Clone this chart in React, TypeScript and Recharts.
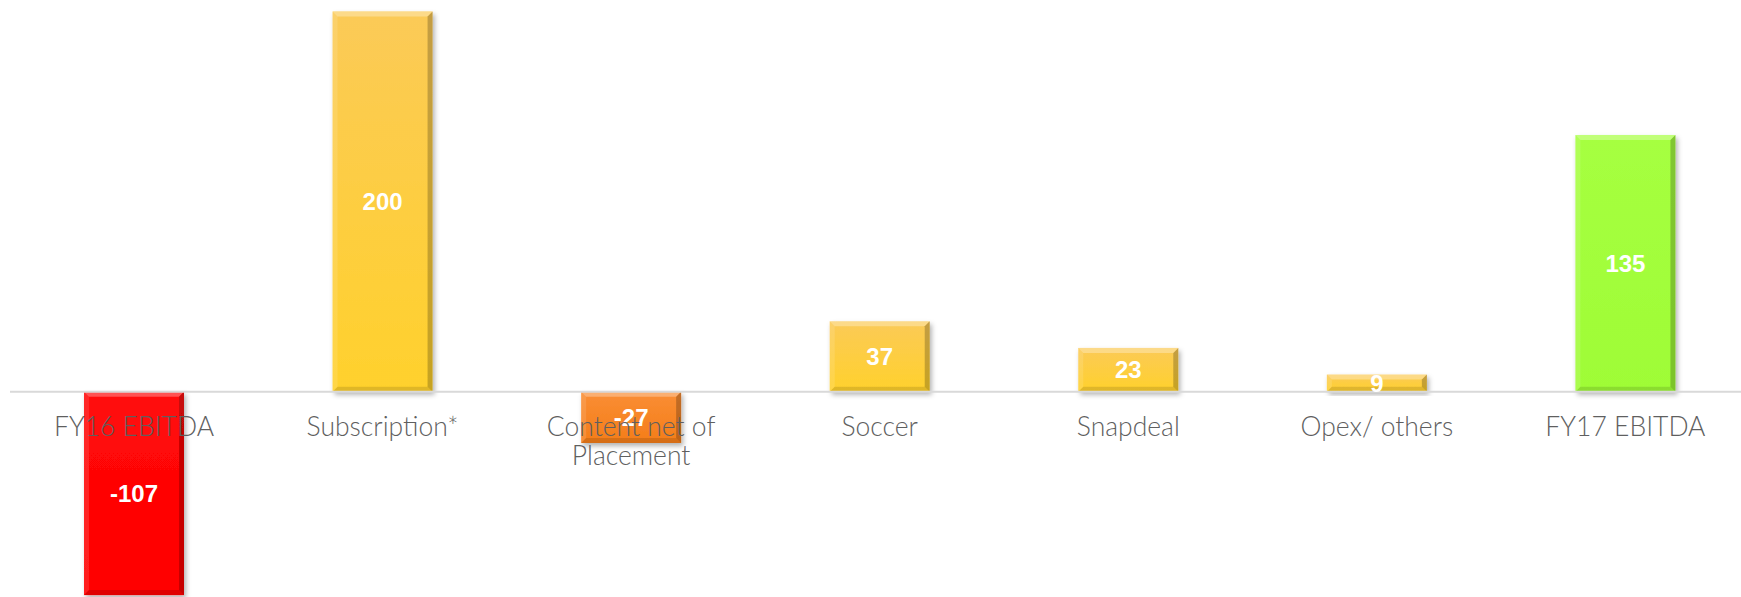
import { BarChart, Bar, XAxis, YAxis, ReferenceLine, LabelList } from "recharts";

// EBITDA bridge FY16 -> FY17
const categories = [
  "FY16 EBITDA",
  "Subscription*",
  "Content net of Placement",
  "Soccer",
  "Snapdeal",
  "Opex/ others",
  "FY17 EBITDA",
];
const values = [-107, 200, -27, 37, 23, 9, 135];

const data = categories.map((name, i) => ({ name, value: values[i] }));

// [top, bottom] gradient colours per bar
const barColors: [string, string][] = [
  ["#ff0a0a", "#ff0000"],
  ["#fbca57", "#ffd12c"],
  ["#fa8e34", "#f47d1a"],
  ["#fbca57", "#ffd12c"],
  ["#fbca57", "#ffd12c"],
  ["#fbca57", "#ffd12c"],
  ["#a6ff40", "#9ffc36"],
];

const BevelBar = (props: any) => {
  const { x, y, width, height, index } = props;
  const top = Math.min(y, y + height);
  const h = Math.abs(height);
  const w = width;
  const b = Math.min(5, h / 3, w / 3);
  return (
    <g filter="url(#barShadow)">
      <rect x={x} y={top} width={w} height={h} fill={`url(#barGrad${index})`} />
      <polygon
        points={`${x},${top} ${x + w},${top} ${x + w - b},${top + b} ${x + b},${top + b}`}
        fill="#ffffff"
        fillOpacity={0.3}
      />
      <polygon
        points={`${x},${top} ${x + b},${top + b} ${x + b},${top + h - b} ${x},${top + h}`}
        fill="#ffffff"
        fillOpacity={0.12}
      />
      <polygon
        points={`${x + w},${top} ${x + w},${top + h} ${x + w - b},${top + h - b} ${x + w - b},${top + b}`}
        fill="#000000"
        fillOpacity={0.22}
      />
      <polygon
        points={`${x},${top + h} ${x + w},${top + h} ${x + w - b},${top + h - b} ${x + b},${top + h - b}`}
        fill="#000000"
        fillOpacity={0.12}
      />
    </g>
  );
};

const ValueLabel = (props: any) => {
  const vb = props.viewBox ?? props;
  const { x, y, width, height } = vb;
  return (
    <text
      x={x + width / 2}
      y={y + height / 2}
      textAnchor="middle"
      dominantBaseline="central"
      fill="#ffffff"
      fontFamily="'Liberation Sans', Arial, sans-serif"
      fontWeight="bold"
      fontSize={24}
    >
      {props.value}
    </text>
  );
};

const CategoryLabel = (props: any) => {
  const vb = props.viewBox ?? props;
  const { x, y, width, height } = vb;
  const idx = props.index;
  const v = values[idx];
  const zero = v >= 0 ? Math.max(y, y + height) : Math.min(y, y + height);
  const name: string = props.value;
  const lines = name === "Content net of Placement" ? ["Content net of", "Placement"] : [name];
  return (
    <text
      x={x + width / 2}
      y={zero + 44}
      textAnchor="middle"
      fill="#5f5f5f"
      fontFamily="Lato, 'Open Sans', sans-serif"
      fontWeight={300}
      fontSize={26.5}
    >
      {lines.map((l, i) => (
        <tspan key={i} x={x + width / 2} dy={i === 0 ? 0 : 29}>
          {l}
        </tspan>
      ))}
    </text>
  );
};

export default function App() {
  return (
    <div
      style={{
        position: "absolute",
        left: 0,
        top: 0,
        width: 1741,
        height: 597,
        overflow: "hidden",
        background: "#ffffff",
      }}
    >
      <BarChart
        width={1750}
        height={597}
        data={data}
        margin={{ top: 0, right: 0, left: 10, bottom: 0 }}
      >
        <defs>
          {barColors.map(([c1, c2], i) => (
            <linearGradient key={i} id={`barGrad${i}`} x1="0" y1="0" x2="0" y2="1">
              <stop offset="0%" stopColor={c1} />
              <stop offset="100%" stopColor={c2} />
            </linearGradient>
          ))}
          <filter id="barShadow" x="-20%" y="-20%" width="140%" height="140%">
            <feDropShadow dx="2" dy="3" stdDeviation="2.5" floodColor="#000" floodOpacity="0.3" />
          </filter>
        </defs>
        <XAxis dataKey="name" hide />
        <YAxis hide domain={[-108, 206]} />
        <ReferenceLine y={0} stroke="#d9d9d9" strokeWidth={2} />
        <Bar dataKey="value" barSize={100} shape={BevelBar} isAnimationActive={false}>
          <LabelList dataKey="value" content={ValueLabel} />
          <LabelList dataKey="name" content={CategoryLabel} />
        </Bar>
      </BarChart>
    </div>
  );
}
